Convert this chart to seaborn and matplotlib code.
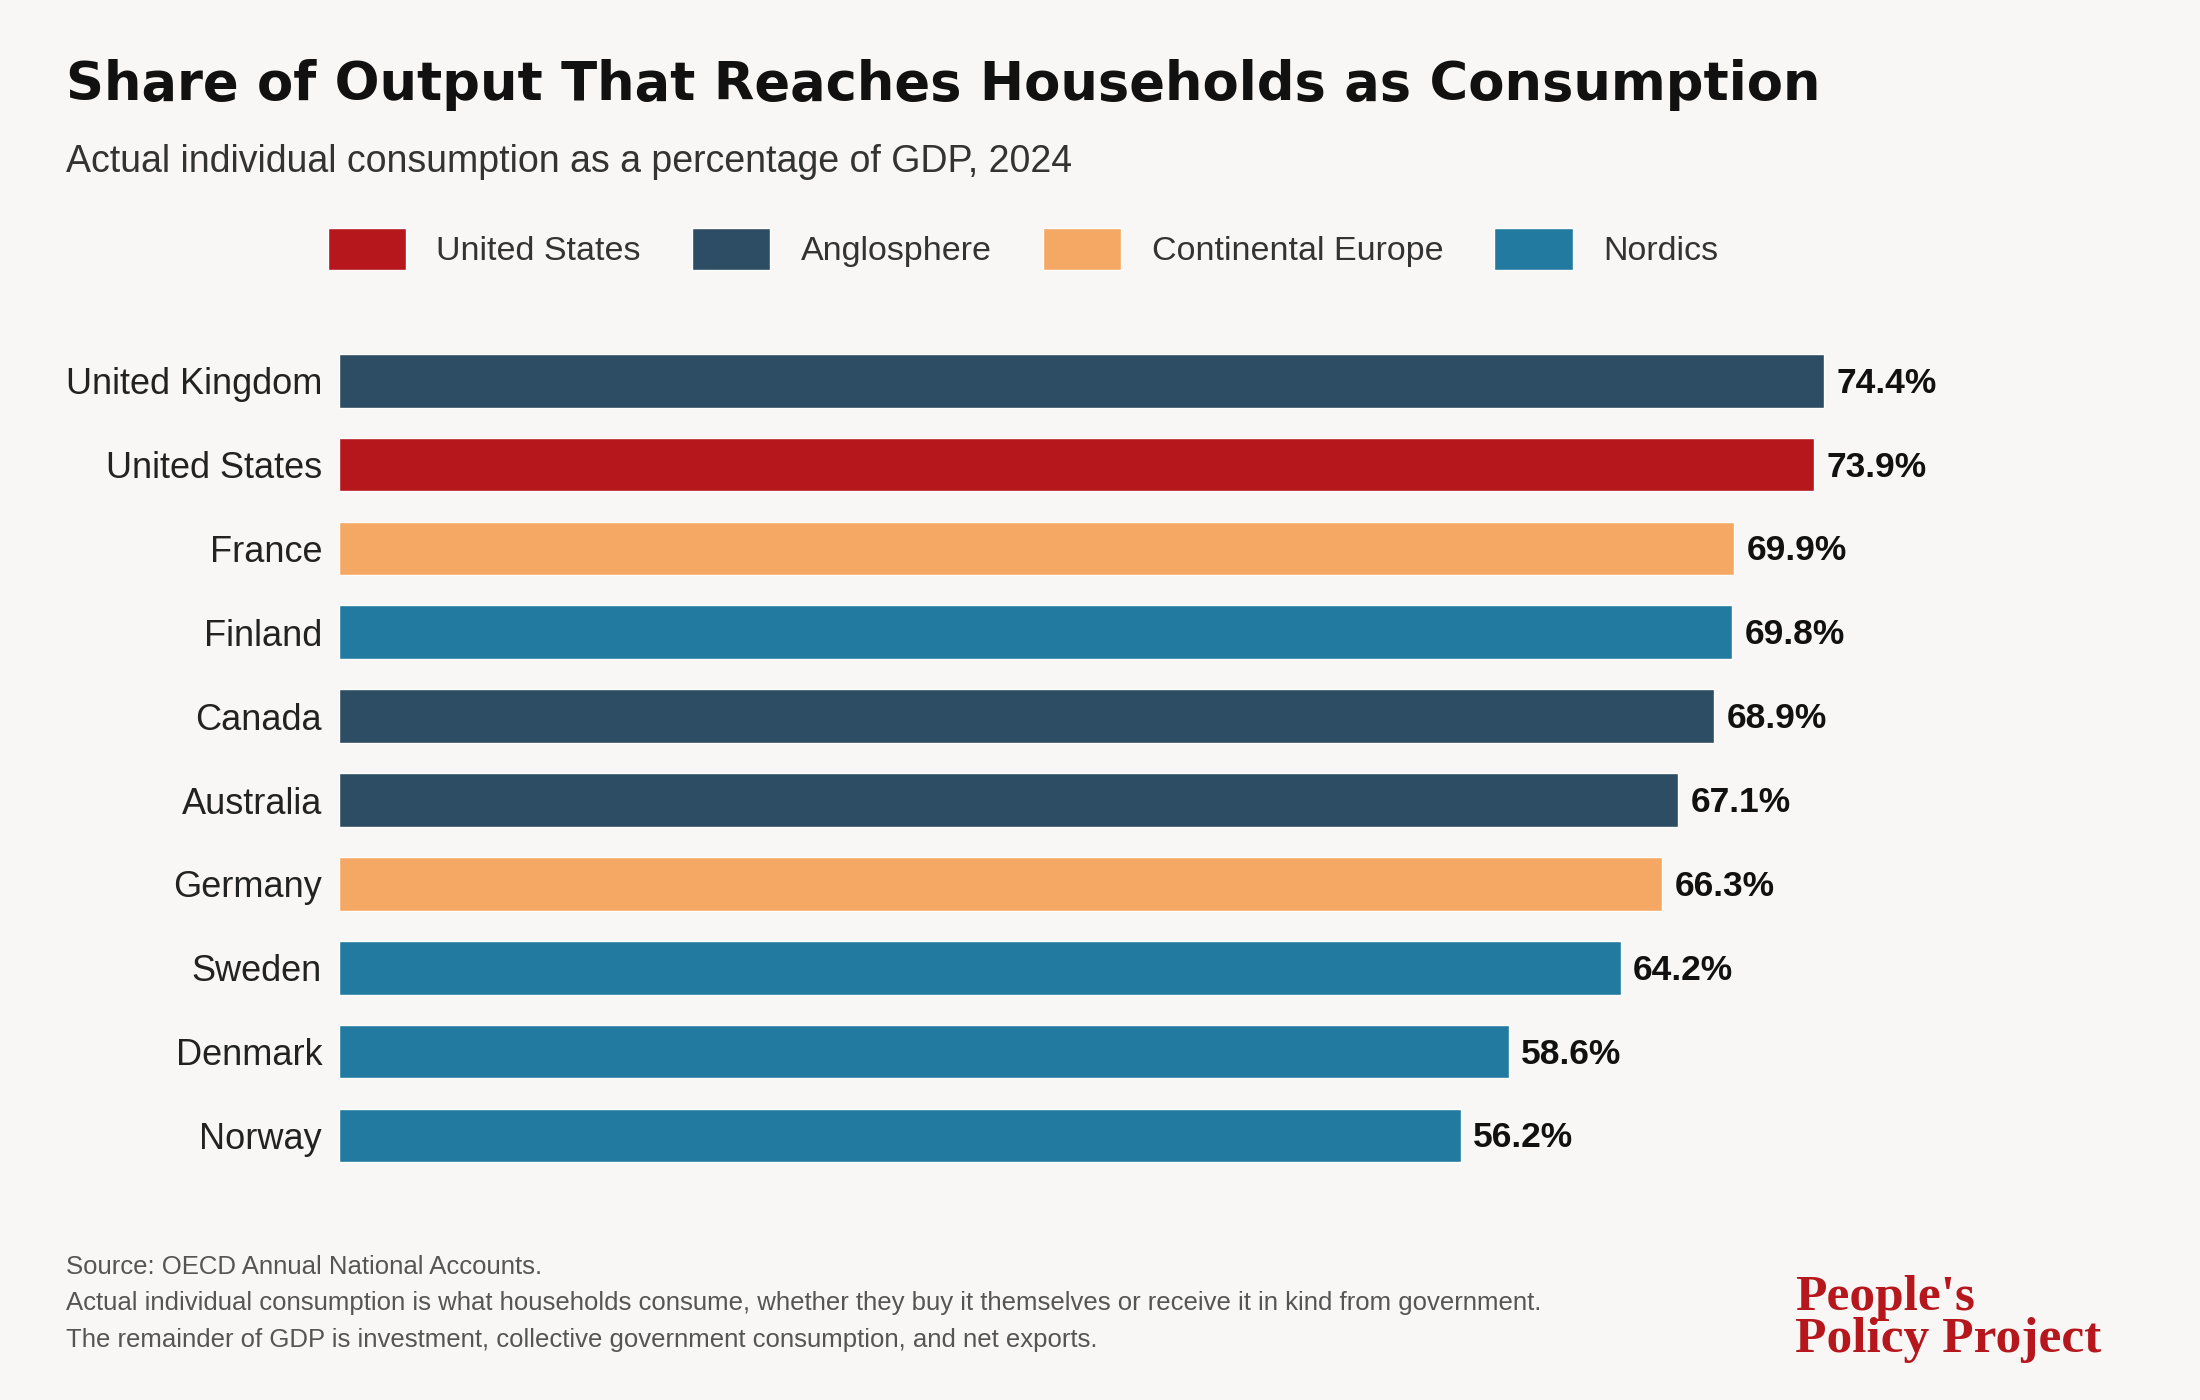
import matplotlib
matplotlib.use("Agg")
import matplotlib.pyplot as plt
import seaborn as sns
import pandas as pd

countries = ["United Kingdom", "United States", "France", "Finland", "Canada",
             "Australia", "Germany", "Sweden", "Denmark", "Norway"]
values = [74.4, 73.9, 69.9, 69.8, 68.9, 67.1, 66.3, 64.2, 58.6, 56.2]
groups = ["Anglosphere", "United States", "Continental Europe", "Nordics", "Anglosphere",
          "Anglosphere", "Continental Europe", "Nordics", "Nordics", "Nordics"]
group_order = ["United States", "Anglosphere", "Continental Europe", "Nordics"]
palette = {"United States": "#b5171c", "Anglosphere": "#2c4d63",
           "Continental Europe": "#f5a863", "Nordics": "#237aa0"}

df = pd.DataFrame({"country": countries, "value": values, "group": groups})

sns.set_theme(style="white")
plt.rcParams['font.family'] = ['Liberation Sans', 'DejaVu Sans']
bg = "#f8f7f5"
fig = plt.figure(figsize=(22, 14), dpi=100, facecolor=bg)
ax = fig.add_axes([0.154, 0.159, 0.726, 0.599], facecolor=bg)

sns.barplot(data=df, y="country", x="value", hue="group", hue_order=group_order,
            palette=palette, dodge=False, width=0.64, ax=ax, legend=True, saturation=1)
ax.set_xlim(0, 80)
ax.set_xlabel(""); ax.set_ylabel("")
ax.set_xticks([])
for s in ax.spines.values():
    s.set_visible(False)
ax.tick_params(axis="y", length=0, pad=12, labelsize=26, labelcolor="#222222")
for i, v in enumerate(values):
    ax.text(v + 0.6, i + 0.03, f"{v:.1f}%", va="center", ha="left", fontsize=25.5,
            fontweight="bold", color="#111111")

handles, labels = ax.get_legend_handles_labels()
ax.get_legend().remove()
fig.legend(handles, labels, loc="center", bbox_to_anchor=(0.465, 0.822), ncol=4,
           frameon=False, fontsize=24.5, handlelength=2.3, handleheight=1.5,
           columnspacing=1.5, handletextpad=0.9, labelcolor="#333333")

fig.text(0.03, 0.939, "Share of Output That Reaches Households as Consumption",
         fontsize=38, fontweight="bold", color="#111111", va="center",
         family=["DejaVu Sans"])
fig.text(0.03, 0.884, "Actual individual consumption as a percentage of GDP, 2024",
         fontsize=27, color="#333333", va="center")
notes = ["Source: OECD Annual National Accounts.",
         "Actual individual consumption is what households consume, whether they buy it themselves or receive it in kind from government.",
         "The remainder of GDP is investment, collective government consumption, and net exports."]
for k, t in enumerate(notes):
    fig.text(0.03, 0.095 - k * 0.026, t, fontsize=18.5, color="#555555", va="center")
fig.text(0.816, 0.058, "People's\nPolicy Project", fontsize=37, fontweight="bold",
         color="#b5171c", va="center", ha="left", linespacing=0.88,
         family=["Liberation Serif", "DejaVu Serif"])

fig.savefig("out.png", dpi=100, facecolor=bg)
